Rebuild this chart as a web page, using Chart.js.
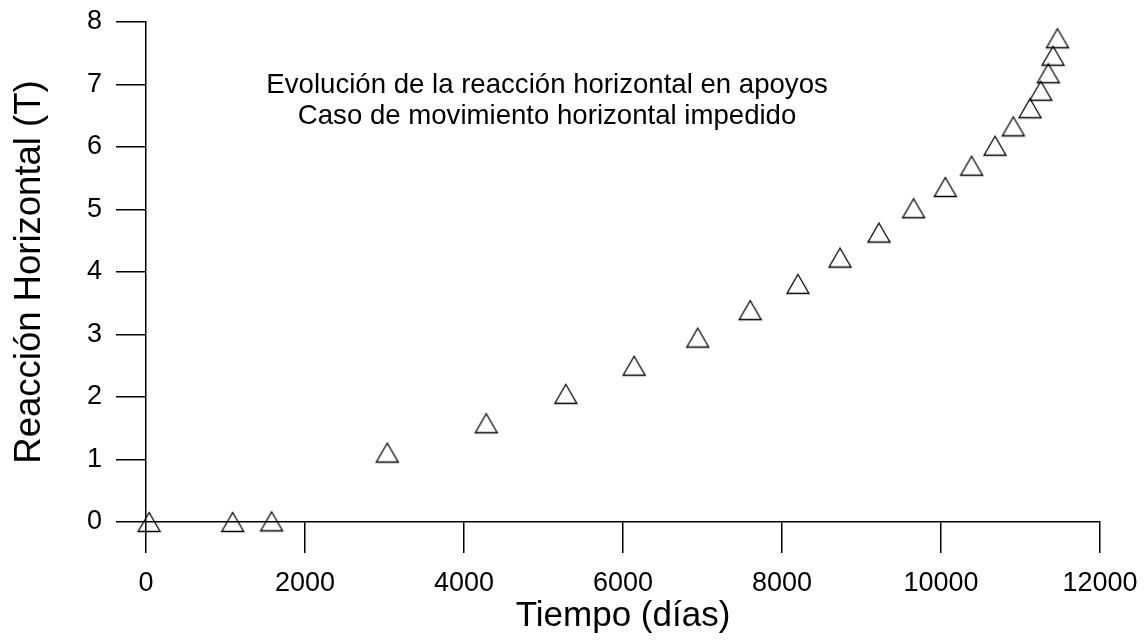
<!DOCTYPE html>
<html>
<head>
<meta charset="utf-8">
<script src="https://cdn.jsdelivr.net/npm/chart.js@4/dist/chart.umd.min.js"></script>
<style>
  html, body { margin: 0; padding: 0; background: #ffffff; }
  #wrap { width: 1146px; height: 640px; }
</style>
</head>
<body>
<div id="wrap"><canvas id="grafico" width="1146" height="640"></canvas></div>
<script>
// Tiempo transcurrido (días) y reacción horizontal en apoyos (T)
const tiempoDias = [40, 1090, 1580, 3035, 4280, 5280, 6140, 6940, 7600, 8200, 8730, 9220,
                    9655, 10055, 10385, 10680, 10910, 11120, 11255, 11350, 11410, 11465];
const reaccionT  = [0.00, 0.00, 0.01, 1.11, 1.58, 2.05, 2.50, 2.95, 3.39, 3.81, 4.23, 4.63,
                    5.02, 5.36, 5.70, 6.02, 6.33, 6.62, 6.90, 7.18, 7.46, 7.74];

const ticksTiempo   = [0, 2000, 4000, 6000, 8000, 10000, 12000];
const ticksReaccion = [0, 1, 2, 3, 4, 5, 6, 7, 8];

const tituloLineas = ['Evolución de la reacción horizontal en apoyos',
                      'Caso de movimiento horizontal impedido'];
const tituloX = 'Tiempo (días)';
const tituloY = 'Reacción Horizontal (T)';

const FUENTE = '"Liberation Sans", Arial, Helvetica, sans-serif';

// Hollow triangle marker, centred on its bounding box
function marcadorTriangulo() {
  const c = document.createElement('canvas');
  c.width = 26; c.height = 24;
  const g = c.getContext('2d');
  g.strokeStyle = '#000';
  g.lineWidth = 1.3;
  g.lineJoin = 'miter';
  g.beginPath();
  g.moveTo(13, 2.5);
  g.lineTo(24, 21.5);
  g.lineTo(2, 21.5);
  g.closePath();
  g.stroke();
  return c;
}

// Two-line caption drawn inside the plot area
const leyendaInterior = {
  id: 'leyendaInterior',
  afterDraw(chart) {
    const { ctx, scales } = chart;
    const cx = scales.x.getPixelForValue(5045);
    const y0 = scales.y.getPixelForValue(6.98);
    ctx.save();
    ctx.fillStyle = '#000';
    ctx.font = '27.6px ' + FUENTE;
    ctx.textAlign = 'center';
    ctx.textBaseline = 'middle';
    tituloLineas.forEach((t, i) => ctx.fillText(t, cx, y0 + i * 31));
    ctx.restore();
  }
};

new Chart(document.getElementById('grafico'), {
  type: 'scatter',
  data: {
    datasets: [{
      data: tiempoDias.map((t, i) => ({ x: t, y: reaccionT[i] })),
      pointStyle: marcadorTriangulo(),
      pointRadius: 12,
      pointHoverRadius: 12,
      showLine: false,
      clip: false
    }]
  },
  options: {
    responsive: false,
    animation: false,
    devicePixelRatio: 1,
    layout: { padding: { top: 22, right: 46, left: 8, bottom: 0 } },
    plugins: {
      legend: { display: false },
      tooltip: { enabled: false },
      title: { display: false }
    },
    scales: {
      x: {
        type: 'linear',
        min: 0, max: 12000,
        afterBuildTicks(s) { s.ticks = ticksTiempo.map(v => ({ value: v })); },
        afterFit(s) { s.height = 118; s.paddingLeft = 0; s.paddingRight = 0; },
        border: { display: true, color: '#000', width: 1.5 },
        grid: { drawOnChartArea: false, drawTicks: true, tickLength: 31, color: '#000', lineWidth: 1.5 },
        ticks: { color: '#000', font: { family: FUENTE, size: 27 }, padding: 14, maxRotation: 0,
                 callback: v => String(v) },
        title: { display: true, text: tituloX, color: '#000', font: { family: FUENTE, size: 35 }, padding: { top: 0, bottom: 3 } }
      },
      y: {
        type: 'linear',
        min: 0, max: 8,
        afterBuildTicks(s) { s.ticks = ticksReaccion.map(v => ({ value: v })); },
        afterFit(s) { s.width = 138; s.paddingTop = 0; s.paddingBottom = 0; },
        border: { display: true, color: '#000', width: 1.5 },
        grid: { drawOnChartArea: false, drawTicks: true, tickLength: 30, color: '#000', lineWidth: 1.5 },
        ticks: { color: '#000', font: { family: FUENTE, size: 27 }, padding: 14,
                 callback: v => String(v) },
        title: { display: true, text: tituloY, color: '#000', font: { family: FUENTE, size: 36.5 }, padding: { top: 0, bottom: 0 } }
      }
    }
  },
  plugins: [leyendaInterior]
});
</script>
</body>
</html>
